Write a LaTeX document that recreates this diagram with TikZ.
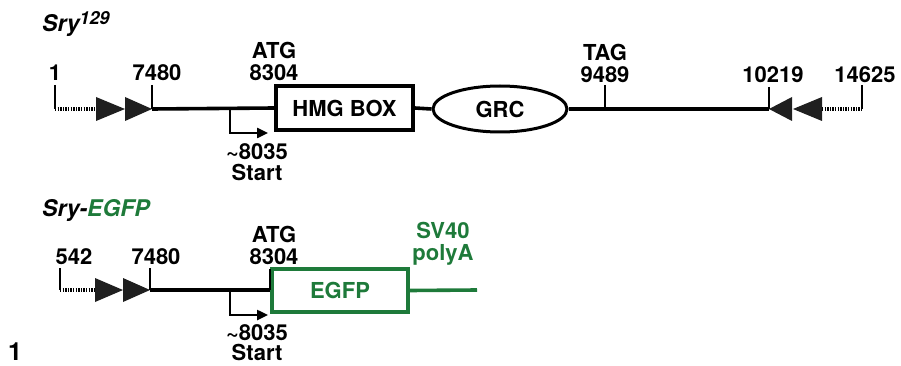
\documentclass[tikz,border=0pt]{standalone}
\usepackage{fontspec}
\setmainfont{TeX Gyre Heros}
\usetikzlibrary{shapes.geometric,arrows.meta}
\definecolor{gfp}{RGB}{30,122,58}
\begin{document}
\begin{tikzpicture}[x=1pt,y=-1pt,
 lbl/.style={font=\fontsize{22}{22}\selectfont\bfseries, inner sep=0pt, align=center},
 ttl/.style={font=\fontsize{23}{23}\selectfont\bfseries\itshape, inner sep=0pt, anchor=base west},
 mainline/.style={line width=3.6pt},
 dotline/.style={line width=4pt, dash pattern=on 1.4pt off 1.2pt},
 tickline/.style={line width=2.4pt},
 startarr/.style={line width=2.4pt, -{Triangle[length=11pt,width=10pt]}},
 tri/.style={fill=black!88},
 boxnode/.style={draw, line width=3.6pt, inner sep=0pt, lbl}
]
\useasboundingbox (0,0) rectangle (901,366);

% ---------------- top: Sry129 ----------------
\node[ttl] (title1) at (42,32) {Sry\raisebox{7pt}{\fontsize{18}{18}\selectfont 129}};

\coordinate (a1) at (55,109); \coordinate (a1t) at (55,85);
\coordinate (a2) at (96,109);
\coordinate (a3) at (152,109); \coordinate (a3t) at (152,85);
\node[lbl] (l1) at (55,73) {1};
\node[lbl] (l7480) at (157,73) {7480};
\draw[tickline] (a1t) -- (a1);
\draw[dotline] (a1) -- (a2);
\fill[tri] (96,97) -- (125,109) -- (96,121) -- cycle;
\fill[tri] (125,97) -- (152,109) -- (125,121) -- cycle;
\draw[tickline] (a3t) -- (a3);

\node[boxnode, minimum width=137pt, minimum height=44pt] (hmg) at (344.5,108) {HMG BOX};
\node[lbl] (atg1) at (274,61) {ATG\\8304};
\draw[mainline] (a3) -- (hmg.west);

\node[draw, ellipse, line width=3pt, minimum width=134pt, minimum height=46pt, lbl] (grc) at (500,109) {GRC};
\draw[mainline] (hmg.east) -- (grc.west);

\coordinate (b1) at (769,109); \coordinate (b1t) at (769,87);
\coordinate (tg) at (605,109); \coordinate (tgt) at (605,85);
\draw[mainline] (grc.east) -- (b1);
\draw[tickline] (tgt) -- (tg);
\node[lbl] (tag) at (605,63) {TAG\\9489};
\draw[tickline] (b1t) -- (b1);
\node[lbl] (l10219) at (773,75) {10219};
\fill[tri] (792,97) -- (769,109) -- (792,121) -- cycle;
\fill[tri] (822,97) -- (793,109) -- (822,121) -- cycle;
\coordinate (b2) at (822,109);
\coordinate (b3) at (862,109); \coordinate (b3t) at (862,85);
\draw[dotline] (b2) -- (b3);
\draw[tickline] (b3t) -- (b3);
\node[lbl] (l14625) at (865,75) {14625};

\coordinate (s1) at (230,109); \coordinate (s1b) at (230,133); \coordinate (s1e) at (268,133);
\draw[startarr] (s1) -- (s1b) -- (s1e);
\node[lbl, font=\fontsize{22}{21}\selectfont\bfseries] (st1) at (257,162) {\textasciitilde8035\\Start};

% ---------------- bottom: Sry-EGFP ----------------
\node[ttl] (title2) at (42,216) {Sry-\textcolor{gfp}{EGFP}};

\coordinate (c1) at (60,290); \coordinate (c1t) at (60,268);
\coordinate (c2) at (95,290);
\coordinate (c3) at (150,290); \coordinate (c3t) at (150,268);
\node[lbl] (l542) at (74,257) {542};
\node[lbl] (l7480b) at (156,257) {7480};
\draw[tickline] (c1t) -- (c1);
\draw[dotline] (c1) -- (c2);
\fill[tri] (95,278) -- (123,290) -- (95,302) -- cycle;
\fill[tri] (123,278) -- (150,290) -- (123,302) -- cycle;
\draw[tickline] (c3t) -- (c3);

\node[boxnode, draw=gfp, text=gfp, minimum width=136pt, minimum height=43pt] (egfp) at (340,290.5) {EGFP};
\coordinate (c4) at (270,290); \coordinate (c4t) at (270,269);
\draw[mainline] (c3) -- (c4);
\draw[tickline] (c4) -- (c4t);
\node[lbl] (atg2) at (274,245) {ATG\\8304};

\coordinate (d1) at (477,290);
\draw[mainline, gfp] (egfp.east) -- (d1);
\node[lbl, text=gfp] (sv40) at (443,244) {SV40\\polyA};

\coordinate (s2) at (230,290); \coordinate (s2b) at (230,315); \coordinate (s2e) at (268,315);
\draw[startarr] (s2) -- (s2b) -- (s2e);
\node[lbl, font=\fontsize{22}{20}\selectfont\bfseries] (st2) at (257,343) {\textasciitilde8035\\Start};

\node[lbl, font=\fontsize{25}{25}\selectfont\bfseries] (fig) at (15,352) {1};
\end{tikzpicture}
\end{document}
